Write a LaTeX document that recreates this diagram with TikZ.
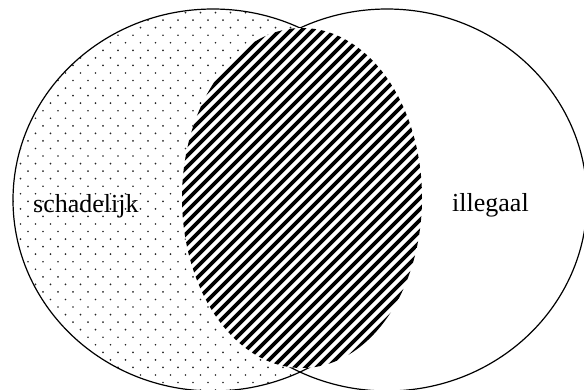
\documentclass[tikz,border=0pt]{standalone}
\usepackage{fontspec}
\setmainfont{Liberation Serif}
\begin{document}
\begin{tikzpicture}[x=1pt,y=-1pt,
  setline/.style={line width=1.2pt,black},
  dotmark/.style={fill=black!85},
  hatchline/.style={line width=3.6pt,black},
  setlabel/.style={font=\fontsize{26}{30}\selectfont,inner sep=0pt,anchor=base west}]
\useasboundingbox (0,0) rectangle (584,389);
\clip (0,0) rectangle (584,389);
% dotted fill of the left set
\begin{scope}
  \clip (213,200) ellipse [x radius=200pt, y radius=191pt];
  \foreach \r in {0,...,53} {
    \pgfmathsetmacro{\yy}{5+7.55*\r}
    \pgfmathsetmacro{\off}{mod(\r,2)*7.5}
    \foreach \c in {0,...,28} {
      \fill[dotmark] ({-2+\off+15*\c},\yy) circle[radius=0.95pt];
    }
  }
\end{scope}
% set outlines
\draw[setline] (213,200) ellipse [x radius=200pt, y radius=191pt];
\draw[setline] (387,200) ellipse [x radius=200pt, y radius=191pt];
% hatched intersection
\fill[white] (302,198) ellipse [x radius=120pt, y radius=170pt];
\begin{scope}
  \clip (302,198) ellipse [x radius=120pt, y radius=170pt];
  \foreach \c in {200,211,...,800} {
    \draw[hatchline] ({\c-400},400) -- (\c,0);
  }
\end{scope}
% labels
\node[setlabel] (schadelijk) at (33,212) {schadelijk};
\node[setlabel] (illegaal) at (452,211) {illegaal};
\end{tikzpicture}
\end{document}
